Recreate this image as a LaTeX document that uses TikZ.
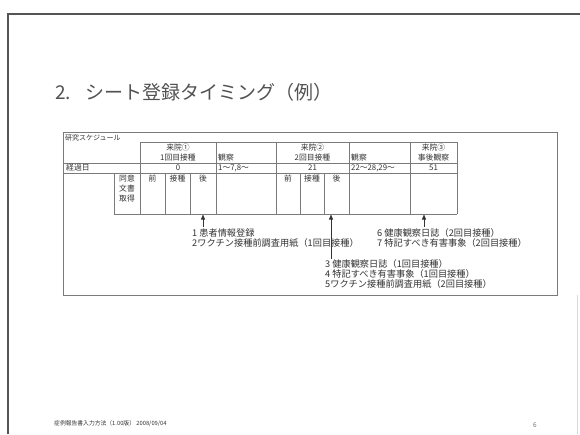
\documentclass[tikz,border=0pt]{standalone}
\usepackage{fontspec}
\setmainfont{Noto Sans CJK JP}
\usetikzlibrary{arrows.meta}
\definecolor{ink}{HTML}{333333}
\definecolor{rulec}{HTML}{7A7A7A}
\definecolor{framec}{HTML}{555555}
\begin{document}
\begin{tikzpicture}[x=1pt,y=-1pt,
  tcell/.style={inner sep=0pt, font=\fontsize{7.8}{8}\selectfont, text=ink},
  tleft/.style={tcell, anchor=west},
  note/.style={inner sep=0pt, anchor=west, font=\fontsize{9.2}{10}\selectfont, text=ink},
  grid/.style={draw=rulec, line width=0.6pt},
  up/.style={-{Triangle[width=4pt,length=5pt]}, draw=ink, line width=0.6pt}]
\useasboundingbox (0,0) rectangle (580,434);
\fill[white] (0,0) rectangle (580,434);
% slide frame
\draw[draw=framec, line width=1.6pt] (8,434) -- (8,14) -- (580,14);
\draw[draw=black!15, line width=0.8pt] (577,295) -- (577,434);
% title
\node[anchor=west, inner sep=0pt, font=\fontsize{19}{21}\selectfont, text=ink!85] (title) at (55,92) {2.\hspace{14pt}シート登録タイミング（例）};
% outer box
\draw[grid] (63,132) rectangle (557,295);
\node[tleft, font=\fontsize{7}{8}\selectfont] (sched) at (65,137.5) {研究スケジュール};
% table grid
\draw[grid] (140,142) -- (457,142);
\draw[grid] (63,163) -- (457,163);
\draw[grid] (63,173) -- (457,173);
\draw[grid] (114,214) -- (457,214);
\foreach \x in {140,216,276,349,410,457} \draw[grid] (\x,142) -- (\x,173);
\foreach \x in {114,140,165,190,216,276,300,324,349,410,457} \draw[grid] (\x,173) -- (\x,214);
% header texts
\node[tcell] (v1a) at (178,147.5) {来院①};
\node[tcell] (v1b) at (178,157.5) {1回目接種};
\node[tleft] (obs1) at (218,157.5) {観察};
\node[tcell] (v2a) at (312.5,147.5) {来院②};
\node[tcell] (v2b) at (312.5,157.5) {2回目接種};
\node[tleft] (obs2) at (351,157.5) {観察};
\node[tcell] (v3a) at (433.5,147.5) {来院③};
\node[tcell] (v3b) at (433.5,157.5) {事後観察};
% elapsed days row
\node[tleft] (days) at (66,168) {経過日};
\node[tcell] (d0) at (178,168) {0};
\node[tleft] (d1) at (218,168) {1〜7,8〜};
\node[tcell] (d21) at (312.5,168) {21};
\node[tleft] (d22) at (351,168) {22〜28,29〜};
\node[tcell] (d51) at (433.5,168) {51};
% data row
\node[tcell] (ic1) at (127,179) {同意};
\node[tcell] (ic2) at (127,189) {文書};
\node[tcell] (ic3) at (127,199) {取得};
\node[tcell] (pre1) at (152.5,179) {前};
\node[tcell] (vac1) at (177.5,179) {接種};
\node[tcell] (post1) at (203,179) {後};
\node[tcell] (pre2) at (288,179) {前};
\node[tcell] (vac2) at (312,179) {接種};
\node[tcell] (post2) at (336.5,179) {後};
% arrow anchors on the table bottom
\coordinate (tipA) at (203,214.5);
\coordinate (tipB) at (331,214.5);
\coordinate (tipC) at (424,214.5);
\coordinate (tailA) at (203,227);
\coordinate (tailB) at (331,259);
\coordinate (tailC) at (424,227);
\draw[up] (tailA) -- (tipA);
\draw[up] (tailB) -- (tipB);
\draw[up] (tailC) -- (tipC);
% notes
\node[note] (n1) at (192,233) {1 患者情報登録};
\node[note] (n2) at (192,243) {2ワクチン接種前調査用紙（1回目接種）};
\node[note] (n6) at (377,233) {6 健康観察日誌（2回目接種）};
\node[note] (n7) at (377,243) {7 特記すべき有害事象（2回目接種）};
\node[note] (n3) at (325,264) {3 健康観察日誌（1回目接種）};
\node[note] (n4) at (325,274) {4 特記すべき有害事象（1回目接種）};
\node[note] (n5) at (325,284) {5ワクチン接種前調査用紙（2回目接種）};
% footer
\node[anchor=west, inner sep=0pt, font=\fontsize{5.8}{7}\selectfont, text=ink] (foot) at (54,424) {症例報告書入力方法（1.00版） 2008/09/04};
\node[inner sep=0pt, font=\fontsize{6.5}{7}\selectfont, text=ink!70] (page) at (535,425) {6};
\end{tikzpicture}
\end{document}
